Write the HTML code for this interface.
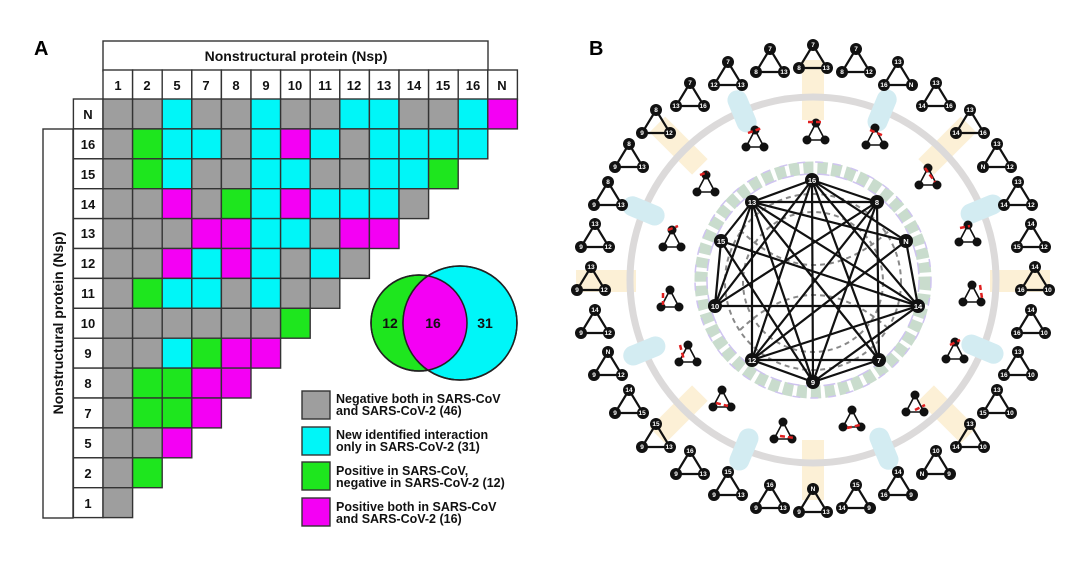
<!DOCTYPE html>
<html><head><meta charset="utf-8"><style>
html,body{margin:0;padding:0;background:#fff;}
body{width:1080px;height:562px;overflow:hidden;position:relative;font-family:"Liberation Sans",Arial,sans-serif;}
svg{position:absolute;left:0;top:0}
rect.k{width:29.6px;height:29.9px;stroke:#333;stroke-width:1.4}
.g{fill:#9e9e9e}.c{fill:#00f6f8}.G{fill:#1ee61e}.m{fill:#f400f4}.w{fill:#fff}
.h{font:bold 13px "Liberation Sans",sans-serif;fill:#111;text-anchor:middle}
.lg{font:bold 12.5px "Liberation Sans",sans-serif;fill:#111}
.t{fill:none;stroke:#111;stroke-width:2.2}
.n{fill:#111}
.nb{fill:#6b5a2e}
.l{font:bold 6.5px "Liberation Sans",sans-serif;fill:#fff;text-anchor:middle}
.e{stroke:#111;stroke-width:2.2}
.d{stroke:#888;stroke-width:2;stroke-dasharray:5 4;fill:none}
.r{stroke:#e02020;stroke-width:2.5;stroke-dasharray:5 3}
</style></head><body>
<svg width="1080" height="562" viewBox="0 0 1080 562">
<text x="34" y="55" style="font:bold 20px 'Liberation Sans',sans-serif">A</text>
<text x="589" y="55" style="font:bold 20px 'Liberation Sans',sans-serif">B</text>
<!-- title boxes -->
<rect x="103" y="41" width="385" height="30" fill="#fff" stroke="#333" stroke-width="1.4"/>
<text x="296" y="61" class="h" style="font-size:14px">Nonstructural protein (Nsp)</text>
<rect x="43" y="129" width="30" height="389" fill="#fff" stroke="#333" stroke-width="1.4"/>
<text transform="translate(63,323) rotate(-90)" class="h" style="font-size:14px">Nonstructural protein (Nsp)</text>
<!-- header row -->
<g>
<rect class="k w" x="103" y="70"/><rect class="k w" x="132.6" y="70"/><rect class="k w" x="162.2" y="70"/><rect class="k w" x="191.8" y="70"/><rect class="k w" x="221.4" y="70"/><rect class="k w" x="251" y="70"/><rect class="k w" x="280.6" y="70"/><rect class="k w" x="310.2" y="70"/><rect class="k w" x="339.8" y="70"/><rect class="k w" x="369.4" y="70"/><rect class="k w" x="399" y="70"/><rect class="k w" x="428.6" y="70"/><rect class="k w" x="458.2" y="70"/><rect class="k w" x="487.8" y="70"/>
<text class="h" y="90"><tspan x="118">1</tspan><tspan x="147">2</tspan><tspan x="177">5</tspan><tspan x="206">7</tspan><tspan x="236">8</tspan><tspan x="266">9</tspan><tspan x="295">10</tspan><tspan x="325">11</tspan><tspan x="354">12</tspan><tspan x="384">13</tspan><tspan x="414">14</tspan><tspan x="443">15</tspan><tspan x="473">16</tspan><tspan x="502">N</tspan></text>
</g>
<!-- row labels -->
<g>
<rect class="k w" x="73.4" y="99"/><rect class="k w" x="73.4" y="128.9"/><rect class="k w" x="73.4" y="158.8"/><rect class="k w" x="73.4" y="188.7"/><rect class="k w" x="73.4" y="218.6"/><rect class="k w" x="73.4" y="248.5"/><rect class="k w" x="73.4" y="278.4"/><rect class="k w" x="73.4" y="308.3"/><rect class="k w" x="73.4" y="338.2"/><rect class="k w" x="73.4" y="368.1"/><rect class="k w" x="73.4" y="398"/><rect class="k w" x="73.4" y="427.9"/><rect class="k w" x="73.4" y="457.8"/><rect class="k w" x="73.4" y="487.7"/>
<text class="h" x="88"><tspan x="88" y="119">N</tspan><tspan x="88" y="149">16</tspan><tspan x="88" y="179">15</tspan><tspan x="88" y="209">14</tspan><tspan x="88" y="238">13</tspan><tspan x="88" y="268">12</tspan><tspan x="88" y="298">11</tspan><tspan x="88" y="328">10</tspan><tspan x="88" y="358">9</tspan><tspan x="88" y="388">8</tspan><tspan x="88" y="418">7</tspan><tspan x="88" y="448">5</tspan><tspan x="88" y="478">2</tspan><tspan x="88" y="508">1</tspan></text>
</g>
<!-- cells -->
<g>
<rect class="k g" x="103" y="99"/><rect class="k g" x="132.6" y="99"/><rect class="k c" x="162.2" y="99"/><rect class="k g" x="191.8" y="99"/><rect class="k g" x="221.4" y="99"/><rect class="k c" x="251" y="99"/><rect class="k g" x="280.6" y="99"/><rect class="k g" x="310.2" y="99"/><rect class="k c" x="339.8" y="99"/><rect class="k c" x="369.4" y="99"/><rect class="k g" x="399" y="99"/><rect class="k g" x="428.6" y="99"/><rect class="k c" x="458.2" y="99"/><rect class="k m" x="487.8" y="99"/>
<rect class="k g" x="103" y="128.9"/><rect class="k G" x="132.6" y="128.9"/><rect class="k c" x="162.2" y="128.9"/><rect class="k c" x="191.8" y="128.9"/><rect class="k g" x="221.4" y="128.9"/><rect class="k c" x="251" y="128.9"/><rect class="k m" x="280.6" y="128.9"/><rect class="k c" x="310.2" y="128.9"/><rect class="k g" x="339.8" y="128.9"/><rect class="k c" x="369.4" y="128.9"/><rect class="k c" x="399" y="128.9"/><rect class="k c" x="428.6" y="128.9"/><rect class="k c" x="458.2" y="128.9"/>
<rect class="k g" x="103" y="158.8"/><rect class="k G" x="132.6" y="158.8"/><rect class="k c" x="162.2" y="158.8"/><rect class="k g" x="191.8" y="158.8"/><rect class="k g" x="221.4" y="158.8"/><rect class="k c" x="251" y="158.8"/><rect class="k c" x="280.6" y="158.8"/><rect class="k g" x="310.2" y="158.8"/><rect class="k g" x="339.8" y="158.8"/><rect class="k c" x="369.4" y="158.8"/><rect class="k c" x="399" y="158.8"/><rect class="k G" x="428.6" y="158.8"/>
<rect class="k g" x="103" y="188.7"/><rect class="k g" x="132.6" y="188.7"/><rect class="k m" x="162.2" y="188.7"/><rect class="k g" x="191.8" y="188.7"/><rect class="k G" x="221.4" y="188.7"/><rect class="k c" x="251" y="188.7"/><rect class="k m" x="280.6" y="188.7"/><rect class="k c" x="310.2" y="188.7"/><rect class="k c" x="339.8" y="188.7"/><rect class="k c" x="369.4" y="188.7"/><rect class="k g" x="399" y="188.7"/>
<rect class="k g" x="103" y="218.6"/><rect class="k g" x="132.6" y="218.6"/><rect class="k g" x="162.2" y="218.6"/><rect class="k m" x="191.8" y="218.6"/><rect class="k m" x="221.4" y="218.6"/><rect class="k c" x="251" y="218.6"/><rect class="k c" x="280.6" y="218.6"/><rect class="k g" x="310.2" y="218.6"/><rect class="k m" x="339.8" y="218.6"/><rect class="k m" x="369.4" y="218.6"/>
<rect class="k g" x="103" y="248.5"/><rect class="k g" x="132.6" y="248.5"/><rect class="k m" x="162.2" y="248.5"/><rect class="k c" x="191.8" y="248.5"/><rect class="k m" x="221.4" y="248.5"/><rect class="k c" x="251" y="248.5"/><rect class="k g" x="280.6" y="248.5"/><rect class="k c" x="310.2" y="248.5"/><rect class="k g" x="339.8" y="248.5"/>
<rect class="k g" x="103" y="278.4"/><rect class="k G" x="132.6" y="278.4"/><rect class="k c" x="162.2" y="278.4"/><rect class="k c" x="191.8" y="278.4"/><rect class="k g" x="221.4" y="278.4"/><rect class="k c" x="251" y="278.4"/><rect class="k g" x="280.6" y="278.4"/><rect class="k g" x="310.2" y="278.4"/>
<rect class="k g" x="103" y="308.3"/><rect class="k g" x="132.6" y="308.3"/><rect class="k g" x="162.2" y="308.3"/><rect class="k g" x="191.8" y="308.3"/><rect class="k g" x="221.4" y="308.3"/><rect class="k g" x="251" y="308.3"/><rect class="k G" x="280.6" y="308.3"/>
<rect class="k g" x="103" y="338.2"/><rect class="k g" x="132.6" y="338.2"/><rect class="k c" x="162.2" y="338.2"/><rect class="k G" x="191.8" y="338.2"/><rect class="k m" x="221.4" y="338.2"/><rect class="k m" x="251" y="338.2"/>
<rect class="k g" x="103" y="368.1"/><rect class="k G" x="132.6" y="368.1"/><rect class="k G" x="162.2" y="368.1"/><rect class="k m" x="191.8" y="368.1"/><rect class="k m" x="221.4" y="368.1"/>
<rect class="k g" x="103" y="398"/><rect class="k G" x="132.6" y="398"/><rect class="k G" x="162.2" y="398"/><rect class="k m" x="191.8" y="398"/>
<rect class="k g" x="103" y="427.9"/><rect class="k g" x="132.6" y="427.9"/><rect class="k m" x="162.2" y="427.9"/>
<rect class="k g" x="103" y="457.8"/><rect class="k G" x="132.6" y="457.8"/>
<rect class="k g" x="103" y="487.7"/>
</g>
<!-- venn -->
<circle cx="419" cy="323" r="48" fill="#1ee61e" stroke="#222" stroke-width="1.5"/>
<circle cx="460" cy="323" r="57" fill="#00f6f8" stroke="#222" stroke-width="1.5"/>
<clipPath id="vc"><circle cx="419" cy="323" r="48"/></clipPath>
<circle cx="460" cy="323" r="57" fill="#f400f4" clip-path="url(#vc)"/>
<circle cx="419" cy="323" r="48" fill="none" stroke="#222" stroke-width="1.5"/>
<circle cx="460" cy="323" r="57" fill="none" stroke="#222" stroke-width="1.5"/>
<text class="h" style="font-size:14px" y="328"><tspan x="390">12</tspan><tspan x="433">16</tspan><tspan x="485">31</tspan></text>
<!-- legend -->
<rect x="302" y="391" width="28" height="28" class="g" stroke="#333" stroke-width="1.4"/>
<rect x="302" y="427" width="28" height="28" class="c" stroke="#333" stroke-width="1.4"/>
<rect x="302" y="462" width="28" height="28" class="G" stroke="#333" stroke-width="1.4"/>
<rect x="302" y="498" width="28" height="28" class="m" stroke="#333" stroke-width="1.4"/>
<text class="lg"><tspan x="336" y="403">Negative both in SARS-CoV</tspan><tspan x="336" y="415">and SARS-CoV-2 (46)</tspan>
<tspan x="336" y="439">New identified interaction</tspan><tspan x="336" y="451">only in SARS-CoV-2 (31)</tspan>
<tspan x="336" y="475">Positive in SARS-CoV,</tspan><tspan x="336" y="487">negative in SARS-CoV-2 (12)</tspan>
<tspan x="336" y="511">Positive both in SARS-CoV</tspan><tspan x="336" y="523">and SARS-CoV-2 (16)</tspan></text>

<!-- PANEL B -->
<defs>
<g id="T"><path class="t" d="M0,-13L-14,10L14,10Z"/><circle class="n" cx="0" cy="-13" r="6"/><circle class="n" cx="-14" cy="10" r="6"/><circle class="n" cx="14" cy="10" r="6"/></g>
<g id="S"><path class="t" d="M0,-10L-9,7L9,7Z" style="stroke-width:1.6"/><circle class="n" cx="0" cy="-10" r="4.5"/><circle class="n" cx="-9" cy="7" r="4.5"/><circle class="n" cx="9" cy="7" r="4.5"/></g>
</defs>
<!-- spokes -->
<g fill="#fcf0d6">
<rect x="802" y="60" width="22" height="60"/>
<rect x="802" y="440" width="22" height="60"/>
<rect x="990" y="270" width="60" height="22" transform="rotate(0)"/>
<rect x="576" y="270" width="60" height="22"/>
<rect x="802" y="60" width="22" height="60" transform="rotate(45 813 280)"/>
<rect x="802" y="60" width="22" height="60" transform="rotate(-45 813 280)"/>
<rect x="802" y="60" width="22" height="60" transform="rotate(135 813 280)"/>
<rect x="802" y="60" width="22" height="60" transform="rotate(-135 813 280)"/>
<rect x="802" y="60" width="22" height="60" transform="rotate(22 813 280)" opacity=".0"/>
</g>
<circle cx="813" cy="280" r="183" fill="none" stroke="#dcdada" stroke-width="7"/>
<g fill="#d3ecf2">
<rect x="802" y="75" width="20" height="44" rx="10" transform="rotate(22.5 813 280)"/>
<rect x="802" y="75" width="20" height="44" rx="10" transform="rotate(-22.5 813 280)"/>
<rect x="802" y="75" width="20" height="44" rx="10" transform="rotate(67.5 813 280)"/>
<rect x="802" y="75" width="20" height="44" rx="10" transform="rotate(-67.5 813 280)"/>
<rect x="802" y="75" width="20" height="44" rx="10" transform="rotate(112.5 813 280)"/>
<rect x="802" y="75" width="20" height="44" rx="10" transform="rotate(-112.5 813 280)"/>
<rect x="802" y="75" width="20" height="44" rx="10" transform="rotate(157.5 813 280)"/>
<rect x="802" y="75" width="20" height="44" rx="10" transform="rotate(-157.5 813 280)"/>
</g>
<!-- membrane -->
<circle cx="813" cy="280" r="112" fill="none" stroke="#c9dccd" stroke-width="13" stroke-dasharray="10 4"/>
<circle cx="813" cy="280" r="106" fill="none" stroke="#cfc4f0" stroke-width="1.5" stroke-dasharray="12 6"/>
<circle cx="813" cy="280" r="118" fill="none" stroke="#cfc4f0" stroke-width="1.5" stroke-dasharray="8 10"/>
<!-- dashed inner -->
<g class="d">
<circle cx="813" cy="282" r="88"/><circle cx="813" cy="282" r="70"/>
<path d="M752,202L879,360M721,241L918,306M715,306L877,202M752,360L906,241"/>
<path d="M740,230Q813,300 890,230M740,330Q813,260 890,330"/>
</g>
<!-- central edges -->
<g class="e">
<path d="M812,180L752,202M812,180L877,202M812,180L906,241M812,180L918,306M812,180L879,360M812,180L813,382M812,180L715,306M812,180L752,360
M752,202L877,202M752,202L721,241M752,202L715,306M752,202L752,360M752,202L906,241M752,202L918,306M752,202L813,382M752,202L879,360
M721,241L715,306M721,241L918,306M721,241L813,382
M877,202L752,360M877,202L715,306M877,202L879,360M877,202L813,382
M906,241L918,306M906,241L752,360M715,306L918,306
M752,360L879,360M752,360L813,382M752,360L918,306M879,360L813,382M918,306L813,382"/>
</g>
<g>
<circle class="n" cx="812" cy="180" r="7"/><circle class="n" cx="752" cy="202" r="7"/><circle class="n" cx="877" cy="202" r="7"/><circle class="n" cx="721" cy="241" r="7"/><circle class="n" cx="906" cy="241" r="7"/><circle class="n" cx="715" cy="306" r="7"/><circle class="n" cx="918" cy="306" r="7"/><circle class="n" cx="752" cy="360" r="7"/><circle class="n" cx="879" cy="360" r="7"/><circle class="n" cx="813" cy="382" r="7"/>
<text class="l" style="font-size:7.5px"><tspan x="812" y="183">16</tspan><tspan x="752" y="205">13</tspan><tspan x="877" y="205">8</tspan><tspan x="721" y="244">15</tspan><tspan x="906" y="244">N</tspan><tspan x="715" y="309">10</tspan><tspan x="918" y="309">14</tspan><tspan x="752" y="363">12</tspan><tspan x="879" y="363">7</tspan><tspan x="813" y="385">9</tspan></text>
</g>
<!-- outer triangles -->
<g>
<use href="#T" x="813" y="58"/><use href="#T" x="856" y="62"/><use href="#T" x="898" y="75"/><use href="#T" x="936" y="96"/><use href="#T" x="970" y="123"/><use href="#T" x="997" y="157"/><use href="#T" x="1018" y="195"/><use href="#T" x="1031" y="237"/><use href="#T" x="1035" y="280"/><use href="#T" x="1031" y="323"/><use href="#T" x="1018" y="365"/><use href="#T" x="997" y="403"/><use href="#T" x="970" y="437"/><use href="#T" x="936" y="464"/><use href="#T" x="898" y="485"/><use href="#T" x="856" y="498"/><use href="#T" x="813" y="502"/>
<use href="#T" x="770" y="498"/><use href="#T" x="728" y="485"/><use href="#T" x="690" y="464"/><use href="#T" x="656" y="437"/><use href="#T" x="629" y="403"/><use href="#T" x="608" y="365"/><use href="#T" x="595" y="323"/><use href="#T" x="591" y="280"/><use href="#T" x="595" y="237"/><use href="#T" x="608" y="195"/><use href="#T" x="629" y="157"/><use href="#T" x="656" y="123"/><use href="#T" x="690" y="96"/><use href="#T" x="728" y="75"/><use href="#T" x="770" y="62"/>
</g>
<text class="l">
<tspan x="813" y="47">7</tspan><tspan x="799" y="70">8</tspan><tspan x="827" y="70">13</tspan>
<tspan x="856" y="51">7</tspan><tspan x="842" y="74">8</tspan><tspan x="870" y="74">12</tspan>
<tspan x="898" y="64">13</tspan><tspan x="884" y="87">16</tspan><tspan x="912" y="87">N</tspan>
<tspan x="936" y="85">13</tspan><tspan x="922" y="108">14</tspan><tspan x="950" y="108">16</tspan>
<tspan x="970" y="112">13</tspan><tspan x="956" y="135">14</tspan><tspan x="984" y="135">16</tspan>
<tspan x="997" y="146">13</tspan><tspan x="983" y="169">N</tspan><tspan x="1011" y="169">12</tspan>
<tspan x="1018" y="184">13</tspan><tspan x="1004" y="207">14</tspan><tspan x="1032" y="207">12</tspan>
<tspan x="1031" y="226">14</tspan><tspan x="1017" y="249">15</tspan><tspan x="1045" y="249">12</tspan>
<tspan x="1035" y="269">14</tspan><tspan x="1021" y="292">16</tspan><tspan x="1049" y="292">10</tspan>
<tspan x="1031" y="312">14</tspan><tspan x="1017" y="335">16</tspan><tspan x="1045" y="335">10</tspan>
<tspan x="1018" y="354">13</tspan><tspan x="1004" y="377">16</tspan><tspan x="1032" y="377">10</tspan>
<tspan x="997" y="392">13</tspan><tspan x="983" y="415">15</tspan><tspan x="1011" y="415">10</tspan>
<tspan x="970" y="426">13</tspan><tspan x="956" y="449">14</tspan><tspan x="984" y="449">10</tspan>
<tspan x="936" y="453">10</tspan><tspan x="922" y="476">N</tspan><tspan x="950" y="476">9</tspan>
<tspan x="898" y="474">14</tspan><tspan x="884" y="497">16</tspan><tspan x="912" y="497">9</tspan>
<tspan x="856" y="487">15</tspan><tspan x="842" y="510">14</tspan><tspan x="870" y="510">9</tspan>
<tspan x="813" y="491">N</tspan><tspan x="799" y="514">9</tspan><tspan x="827" y="514">13</tspan>
<tspan x="770" y="487">16</tspan><tspan x="756" y="510">9</tspan><tspan x="784" y="510">13</tspan>
<tspan x="728" y="474">15</tspan><tspan x="714" y="497">9</tspan><tspan x="742" y="497">13</tspan>
<tspan x="690" y="453">16</tspan><tspan x="676" y="476">9</tspan><tspan x="704" y="476">13</tspan>
<tspan x="656" y="426">15</tspan><tspan x="642" y="449">9</tspan><tspan x="670" y="449">13</tspan>
<tspan x="629" y="392">14</tspan><tspan x="615" y="415">9</tspan><tspan x="643" y="415">15</tspan>
<tspan x="608" y="354">N</tspan><tspan x="594" y="377">9</tspan><tspan x="622" y="377">12</tspan>
<tspan x="595" y="312">14</tspan><tspan x="581" y="335">9</tspan><tspan x="609" y="335">12</tspan>
<tspan x="591" y="269">13</tspan><tspan x="577" y="292">9</tspan><tspan x="605" y="292">12</tspan>
<tspan x="595" y="226">13</tspan><tspan x="581" y="249">9</tspan><tspan x="609" y="249">12</tspan>
<tspan x="608" y="184">8</tspan><tspan x="594" y="207">9</tspan><tspan x="622" y="207">13</tspan>
<tspan x="629" y="146">8</tspan><tspan x="615" y="169">9</tspan><tspan x="643" y="169">13</tspan>
<tspan x="656" y="112">8</tspan><tspan x="642" y="135">9</tspan><tspan x="670" y="135">12</tspan>
<tspan x="690" y="85">7</tspan><tspan x="676" y="108">13</tspan><tspan x="704" y="108">16</tspan>
<tspan x="728" y="64">7</tspan><tspan x="714" y="87">12</tspan><tspan x="742" y="87">13</tspan>
<tspan x="770" y="51">7</tspan><tspan x="756" y="74">8</tspan><tspan x="784" y="74">13</tspan>
</text>
<!-- inner small motifs -->
<g>
<use href="#S" x="816" y="133"/><use href="#S" x="875" y="138"/><use href="#S" x="928" y="178"/><use href="#S" x="968" y="235"/><use href="#S" x="972" y="295"/><use href="#S" x="955" y="352"/><use href="#S" x="915" y="405"/><use href="#S" x="852" y="420"/><use href="#S" x="783" y="432"/><use href="#S" x="722" y="400"/><use href="#S" x="688" y="355"/><use href="#S" x="670" y="300"/><use href="#S" x="672" y="240"/><use href="#S" x="706" y="185"/><use href="#S" x="755" y="140"/>
</g>
<g class="r">
<path d="M808,122L824,122M870,130L884,136M925,168L935,182M960,228L970,226M980,285L982,298M950,345L960,340M915,410L925,405M847,428L860,425M780,436L795,438M716,403L728,406M680,345L684,360M663,293L663,305M668,230L678,226M700,175L708,172M748,133L762,128"/>
</g>
</svg>
</body></html>
